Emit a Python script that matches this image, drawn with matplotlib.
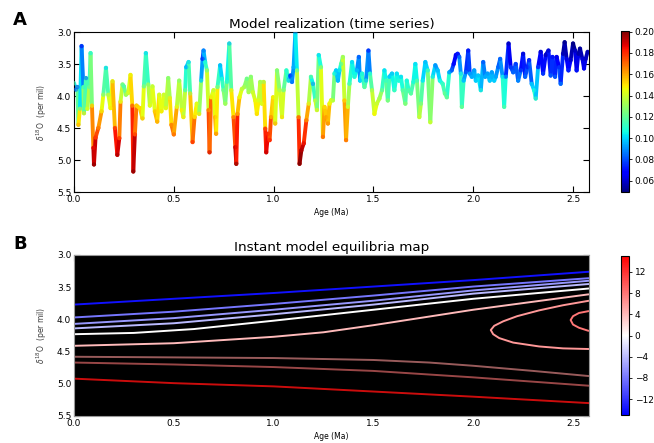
import numpy as np
import matplotlib
matplotlib.use('Agg')
import matplotlib.pyplot as plt
from matplotlib.collections import LineCollection
from matplotlib import colors

# ---- model realization: age (Ma), d18O (per mil), colour variable ----
age = [0.000, 0.010, 0.017, 0.022, 0.030, 0.038, 0.047, 0.050, 0.060, 0.067,
       0.077, 0.083, 0.090, 0.097, 0.100, 0.108, 0.122, 0.138, 0.147, 0.160,
       0.172, 0.183, 0.193, 0.205, 0.217, 0.227, 0.233, 0.243, 0.250, 0.260,
       0.272, 0.283, 0.292, 0.297, 0.305, 0.313, 0.330, 0.343, 0.350, 0.360,
       0.372, 0.380, 0.393, 0.405, 0.417, 0.427, 0.438, 0.450, 0.460, 0.472,
       0.480, 0.488, 0.500, 0.515, 0.527, 0.540, 0.548, 0.557, 0.562, 0.574,
       0.582, 0.594, 0.604, 0.615, 0.627, 0.637, 0.644, 0.649, 0.657, 0.666,
       0.674, 0.679, 0.687, 0.699, 0.707, 0.712, 0.719, 0.732, 0.741, 0.749,
       0.758, 0.766, 0.778, 0.788, 0.799, 0.808, 0.813, 0.819, 0.829, 0.841,
       0.853, 0.866, 0.875, 0.886, 0.896, 0.908, 0.916, 0.925, 0.933, 0.941,
       0.950, 0.958, 0.963, 0.972, 0.980, 0.987, 0.997, 1.008, 1.017, 1.030,
       1.042, 1.050, 1.064, 1.075, 1.084, 1.092, 1.100, 1.109, 1.117, 1.125,
       1.130, 1.139, 1.151, 1.164, 1.176, 1.187, 1.197, 1.209, 1.217, 1.226,
       1.237, 1.247, 1.255, 1.263, 1.272, 1.280, 1.288, 1.297, 1.305, 1.313,
       1.322, 1.330, 1.338, 1.347, 1.355, 1.363, 1.372, 1.380, 1.393, 1.405,
       1.417, 1.427, 1.433, 1.443, 1.455, 1.463, 1.475, 1.483, 1.493, 1.505,
       1.517, 1.530, 1.543, 1.555, 1.563, 1.572, 1.580, 1.593, 1.605, 1.617,
       1.627, 1.638, 1.647, 1.660, 1.667, 1.677, 1.688, 1.700, 1.710, 1.718,
       1.730, 1.738, 1.747, 1.760, 1.772, 1.785, 1.797, 1.810, 1.822, 1.833,
       1.847, 1.858, 1.868, 1.880, 1.892, 1.902, 1.913, 1.922, 1.930, 1.938,
       1.943, 1.952, 1.963, 1.975, 1.983, 1.993, 2.005, 2.013, 2.025, 2.038,
       2.050, 2.060, 2.072, 2.083, 2.093, 2.105, 2.113, 2.125, 2.135, 2.147,
       2.155, 2.163, 2.177, 2.188, 2.200, 2.213, 2.225, 2.238, 2.250, 2.260,
       2.272, 2.280, 2.293, 2.305, 2.313, 2.325, 2.338, 2.350, 2.363, 2.377,
       2.388, 2.397, 2.410, 2.418, 2.430, 2.438, 2.450, 2.458, 2.468, 2.477,
       2.488, 2.500, 2.510, 2.518, 2.527, 2.535, 2.547, 2.555, 2.563, 2.573]

d18o = [3.80, 3.90, 3.86, 4.45, 4.20, 3.22, 3.86, 4.27, 3.72, 4.20,
        3.86, 3.33, 4.15, 4.81, 5.07, 4.65, 4.50, 4.24, 3.98, 3.56,
        3.98, 4.19, 3.77, 4.50, 4.92, 4.66, 4.09, 3.82, 3.85, 3.98,
        3.95, 3.67, 4.15, 5.18, 4.60, 4.15, 4.19, 4.35, 3.85, 3.33,
        3.82, 4.15, 3.85, 4.24, 4.40, 3.98, 4.24, 3.98, 4.19, 3.72,
        4.03, 4.45, 4.60, 4.17, 3.76, 4.22, 4.33, 3.91, 3.55, 3.47,
        3.96, 4.72, 4.33, 4.12, 4.28, 3.76, 3.42, 3.29, 3.47, 3.60,
        4.22, 4.88, 4.02, 3.91, 4.33, 4.59, 3.86, 3.52, 3.73, 3.91,
        4.12, 3.78, 3.18, 3.91, 4.33, 4.80, 5.06, 4.28, 4.02, 3.89,
        3.86, 3.73, 3.94, 3.70, 3.94, 4.07, 4.28, 4.07, 3.78, 4.12,
        3.78, 4.51, 4.88, 4.59, 4.69, 4.33, 4.02, 4.43, 3.60, 3.91,
        4.33, 3.91, 3.60, 3.76, 3.68, 3.78, 3.55, 3.00, 3.60, 4.33,
        5.06, 4.85, 4.74, 4.38, 4.12, 3.70, 3.81, 4.07, 4.22, 3.36,
        3.55, 4.64, 4.17, 4.33, 4.43, 4.12, 4.07, 4.07, 3.65, 3.60,
        3.76, 3.60, 3.50, 3.39, 4.07, 4.69, 4.17, 3.81, 3.47, 3.70,
        3.60, 3.39, 3.76, 3.65, 3.86, 3.76, 3.29, 3.65, 3.91, 4.28,
        4.12, 4.04, 3.91, 3.60, 3.76, 4.07, 3.70, 3.65, 3.91, 3.65,
        3.76, 3.70, 3.91, 4.12, 3.76, 3.91, 3.96, 3.78, 3.50, 3.76,
        4.33, 4.12, 3.76, 3.47, 3.60, 4.41, 3.70, 3.52, 3.60, 3.76,
        3.81, 3.96, 4.02, 3.63, 3.60, 3.50, 3.36, 3.34, 3.39, 3.65,
        4.17, 3.76, 3.63, 3.29, 3.65, 3.70, 3.60, 3.76, 3.68, 3.91,
        3.47, 3.70, 3.65, 3.76, 3.63, 3.76, 3.70, 3.55, 3.42, 3.70,
        4.17, 3.70, 3.18, 3.55, 3.63, 3.50, 3.76, 3.60, 3.34, 3.70,
        3.55, 3.44, 3.81, 3.91, 4.04, 3.55, 3.31, 3.65, 3.36, 3.29,
        3.68, 3.39, 3.70, 3.39, 3.55, 3.81, 3.34, 3.16, 3.42, 3.60,
        3.44, 3.18, 3.29, 3.60, 3.34, 3.26, 3.42, 3.57, 3.42, 3.31]

cval = [0.115, 0.085, 0.080, 0.160, 0.140, 0.065, 0.110, 0.150, 0.085, 0.145,
        0.125, 0.105, 0.145, 0.185, 0.200, 0.180, 0.170, 0.155, 0.135, 0.100,
        0.132, 0.150, 0.142, 0.172, 0.195, 0.183, 0.150, 0.125, 0.115, 0.130,
        0.140, 0.145, 0.160, 0.203, 0.180, 0.155, 0.150, 0.158, 0.130, 0.100,
        0.125, 0.145, 0.135, 0.152, 0.162, 0.140, 0.150, 0.138, 0.148, 0.125,
        0.140, 0.163, 0.172, 0.148, 0.125, 0.148, 0.150, 0.125, 0.095, 0.100,
        0.130, 0.182, 0.155, 0.142, 0.150, 0.110, 0.075, 0.085, 0.105, 0.120,
        0.160, 0.190, 0.150, 0.135, 0.155, 0.168, 0.130, 0.095, 0.105, 0.120,
        0.135, 0.115, 0.095, 0.140, 0.160, 0.188, 0.200, 0.165, 0.148, 0.138,
        0.135, 0.120, 0.135, 0.125, 0.138, 0.145, 0.152, 0.145, 0.130, 0.145,
        0.130, 0.172, 0.192, 0.180, 0.183, 0.165, 0.145, 0.160, 0.125, 0.130,
        0.152, 0.130, 0.110, 0.110, 0.078, 0.085, 0.095, 0.092, 0.115, 0.160,
        0.200, 0.195, 0.188, 0.170, 0.150, 0.120, 0.090, 0.135, 0.148, 0.100,
        0.115, 0.172, 0.150, 0.160, 0.165, 0.148, 0.142, 0.140, 0.110, 0.100,
        0.095, 0.100, 0.115, 0.128, 0.150, 0.172, 0.145, 0.120, 0.100, 0.110,
        0.100, 0.080, 0.100, 0.105, 0.120, 0.110, 0.070, 0.105, 0.130, 0.148,
        0.140, 0.135, 0.125, 0.100, 0.110, 0.130, 0.100, 0.095, 0.115, 0.100,
        0.110, 0.100, 0.115, 0.130, 0.105, 0.115, 0.120, 0.110, 0.100, 0.110,
        0.140, 0.130, 0.105, 0.095, 0.105, 0.145, 0.110, 0.090, 0.095, 0.105,
        0.110, 0.120, 0.125, 0.095, 0.085, 0.070, 0.065, 0.070, 0.080, 0.100,
        0.125, 0.100, 0.085, 0.065, 0.090, 0.095, 0.090, 0.100, 0.095, 0.110,
        0.080, 0.095, 0.090, 0.100, 0.090, 0.100, 0.095, 0.085, 0.080, 0.100,
        0.120, 0.095, 0.055, 0.075, 0.085, 0.075, 0.090, 0.080, 0.060, 0.085,
        0.075, 0.070, 0.095, 0.105, 0.115, 0.080, 0.058, 0.080, 0.060, 0.058,
        0.085, 0.065, 0.085, 0.063, 0.072, 0.090, 0.058, 0.050, 0.062, 0.075,
        0.062, 0.050, 0.055, 0.072, 0.056, 0.052, 0.060, 0.068, 0.060, 0.055]

# ---- equilibria map: contour lines, one level each ----
eq_levels = [-14, -8, -6, -4, 0, 4, 6, 8, 6, 8, 14]
eq_alpha = [1, 1, 1, 1, 1, 1, 1, 1, 0.6, 0.6, 0.8]
eq_ages = [
    [0.0, 0.5, 1.0, 1.5, 2.0, 2.58],
    [0.0, 0.5, 1.0, 1.5, 2.0, 2.58],
    [0.0, 0.5, 1.0, 1.5, 2.0, 2.58],
    [0.0, 0.5, 1.0, 1.5, 2.0, 2.58],
    [0.0, 0.3, 0.6, 1.0, 1.5, 2.0, 2.58],
    [0.0, 0.5, 1.0, 1.25, 1.5, 2.0, 2.58],
    [2.58, 2.45, 2.33, 2.22, 2.15, 2.105, 2.088, 2.10, 2.13, 2.20, 2.33, 2.45, 2.58],
    [2.58, 2.53, 2.50, 2.488, 2.50, 2.53, 2.58],
    [0.0, 0.5, 1.0, 1.5, 1.78, 2.0, 2.3, 2.58],
    [0.0, 0.5, 1.0, 1.5, 2.0, 2.58],
    [0.0, 0.5, 1.0, 1.5, 2.0, 2.58],
]
eq_vals = [
    [3.77, 3.68, 3.59, 3.49, 3.39, 3.26],
    [3.97, 3.88, 3.76, 3.63, 3.49, 3.36],
    [4.07, 3.98, 3.85, 3.71, 3.55, 3.40],
    [4.14, 4.06, 3.92, 3.77, 3.60, 3.45],
    [4.23, 4.21, 4.15, 4.02, 3.85, 3.68, 3.52],
    [4.41, 4.37, 4.27, 4.20, 4.09, 3.85, 3.61],
    [3.71, 3.78, 3.86, 3.95, 4.03, 4.10, 4.165, 4.23, 4.29, 4.36, 4.42, 4.45, 4.46],
    [3.87, 3.90, 3.95, 4.01, 4.08, 4.13, 4.18],
    [4.58, 4.59, 4.60, 4.63, 4.67, 4.72, 4.80, 4.88],
    [4.67, 4.70, 4.74, 4.80, 4.90, 5.03],
    [4.92, 4.99, 5.04, 5.12, 5.20, 5.30],
]

W, H = 654, 443
fig = plt.figure(figsize=(W / 100.0, H / 100.0), dpi=100)
fig.patch.set_facecolor('white')

def box(x0, y0, x1, y1):
    # pixel box (from top-left) -> figure fraction rect
    return [x0 / W, 1 - y1 / H, (x1 - x0) / W, (y1 - y0) / H]

ax1 = fig.add_axes(box(74, 32, 589, 192))
ax2 = fig.add_axes(box(74, 255, 589, 416))
cax1 = fig.add_axes(box(621, 31, 629, 192))
cax2 = fig.add_axes(box(621, 256, 629, 415))

def style_axis(ax):
    ax.set_xlim(0, 2.58)
    ax.set_ylim(5.5, 3.0)
    ax.set_xticks(np.arange(0, 2.51, 0.5))
    ax.set_yticks(np.arange(3.0, 5.51, 0.5))
    ax.tick_params(direction='in', top=True, right=True, length=4, width=0.8,
                   labelsize=6.5, pad=2)
    ax.set_xlabel('Age (Ma)', fontsize=5.5, labelpad=3)
    ax.set_ylabel(r'$\delta^{18}$O  (per mil)', fontsize=5.5, labelpad=6,
                  color='0.25')

# --- A: time series coloured by the model variable ---
jet_norm = colors.Normalize(vmin=0.0495, vmax=0.2005)
pts = np.column_stack([age, d18o])
segs = np.stack([pts[:-1], pts[1:]], axis=1)
seg_c = (np.array(cval[:-1]) + np.array(cval[1:])) / 2.0
lc = LineCollection(segs, cmap='jet', norm=jet_norm, linewidths=2.8,
                    capstyle='round', joinstyle='round')
lc.set_array(seg_c)
ax1.add_collection(lc)
ax1.scatter(age, d18o, c=cval, cmap='jet', norm=jet_norm, s=10,
            edgecolors='none', alpha=0.6, zorder=3)
style_axis(ax1)
ax1.set_title('Model realization (time series)', fontsize=9.7, pad=3)

cb1 = fig.colorbar(plt.cm.ScalarMappable(norm=jet_norm, cmap='jet'), cax=cax1,
                   ticks=np.arange(0.06, 0.201, 0.02))
cb1.ax.tick_params(labelsize=6.5, length=2, width=0.6, pad=2)
cb1.outline.set_linewidth(0.8)

# --- B: equilibria contour lines on black ---
bwr_norm = colors.Normalize(vmin=-15, vmax=15)
ax2.set_facecolor('black')
for lev, a, xs, ys in zip(eq_levels, eq_alpha, eq_ages, eq_vals):
    ax2.plot(xs, ys, color=plt.cm.bwr(bwr_norm(lev)), lw=1.4, alpha=a,
             solid_capstyle='butt')
style_axis(ax2)
for sp in ax2.spines.values():
    sp.set_color('0.6')
ax2.set_title('Instant model equilibria map', fontsize=9.7, pad=3)

cb2 = fig.colorbar(plt.cm.ScalarMappable(norm=bwr_norm, cmap='bwr'), cax=cax2,
                   ticks=[12, 8, 4, 0, -4, -8, -12])
cb2.ax.tick_params(labelsize=6.5, length=2, width=0.6, pad=2)
cb2.outline.set_linewidth(0.8)

fig.text(13 / W, 1 - 25 / H, 'A', fontsize=13, fontweight='bold')
fig.text(13 / W, 1 - 249 / H, 'B', fontsize=13, fontweight='bold')

fig.savefig('out.png', dpi=100)
